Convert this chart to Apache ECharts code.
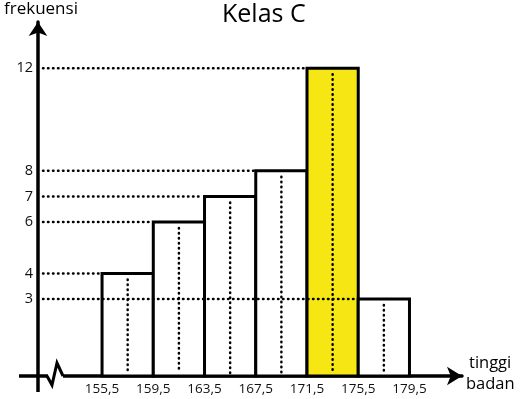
<!DOCTYPE html>
<html>
  <head>
    <meta charset="utf-8" />
    <title>Kelas C</title>
    <script src="https://cdn.jsdelivr.net/npm/echarts@6/dist/echarts.min.js"></script>
    <style>
      body { margin: 0; background: #fff; }
      #main { width: 521px; height: 399px; }
    </style>
  </head>
  <body>
    <div id="main"></div>
    <script type="text/javascript">
// tepi kelas dan frekuensi
var edges = [155.5, 159.5, 163.5, 167.5, 171.5, 175.5, 179.5];
var freqs = [4, 6, 7, 8, 12, 3];
var yTicks = [3, 4, 6, 7, 8, 12];
var highlight = 4;

var xMin = 150.5, xMax = 183.6;
var font = 'Open Sans';

var chart = echarts.init(document.getElementById('main'));

var barData = freqs.map(function (f, i) {
  return [edges[i], edges[i + 1], f, i];
});

function renderBar(params, api) {
  var p0 = api.coord([api.value(0), 0]);
  var p1 = api.coord([api.value(1), api.value(2)]);
  return {
    type: 'rect',
    shape: { x: p0[0], y: p1[1], width: p1[0] - p0[0], height: p0[1] - p1[1] },
    style: {
      fill: api.value(3) === highlight ? '#f5e614' : '#fff',
      stroke: '#000',
      lineWidth: 3
    }
  };
}

function renderGuides(params, api) {
  var s = api.value(0), e = api.value(1), f = api.value(2);
  var mid = (s + e) / 2;
  var top = api.coord([mid, f]);
  var bot = api.coord([mid, 0]);
  var left = api.coord([xMin, f]);
  var edge = api.coord([s, f]);
  var dot = { stroke: '#000', lineWidth: 2.5, lineDash: [0.5, 4.5], lineCap: 'round' };
  return {
    type: 'group',
    children: [
      { type: 'line', shape: { x1: left[0] + 5, y1: left[1], x2: edge[0] - 2, y2: edge[1] }, style: dot },
      { type: 'line', shape: { x1: top[0], y1: top[1] + 6, x2: bot[0], y2: bot[1] - 3 }, style: dot }
    ]
  };
}

// tanda patahan sumbu
function renderBreak(params, api) {
  var o = api.coord([xMin, 0]);
  var x = o[0], y = o[1];
  return {
    type: 'group',
    children: [
      { type: 'line', shape: { x1: x - 19, y1: y, x2: x, y2: y }, style: { stroke: '#000', lineWidth: 3.5 } },
      { type: 'line', shape: { x1: x, y1: y, x2: x, y2: y + 16 }, style: { stroke: '#000', lineWidth: 3.5 } },
      { type: 'rect', shape: { x: x + 10, y: y - 3, width: 15, height: 6 }, style: { fill: '#fff' } },
      {
        type: 'polyline',
        shape: { points: [[x + 9, y], [x + 14, y + 9], [x + 19, y - 13], [x + 25, y]] },
        style: { stroke: '#000', lineWidth: 3, fill: null, lineJoin: 'miter' }
      }
    ]
  };
}

var option = {
  animation: false,
  grid: { left: 38, right: 59, top: 22, bottom: 23 },
  xAxis: {
    type: 'value',
    min: xMin,
    max: xMax,
    axisLine: {
      show: true,
      lineStyle: { color: '#000', width: 3.5 },
      symbol: ['none', 'arrow'],
      symbolSize: [14, 15],
      symbolOffset: [0, 0]
    },
    axisTick: { show: false },
    splitLine: { show: false },
    axisLabel: {
      customValues: edges,
      formatter: function (v) { return String(v).replace('.', ','); },
      fontFamily: font,
      fontSize: 13.5,
      color: '#111',
      margin: 6
    }
  },
  yAxis: {
    type: 'value',
    min: 0,
    max: 13.8,
    axisLine: {
      show: true,
      lineStyle: { color: '#000', width: 3.5 },
      symbol: ['none', 'arrow'],
      symbolSize: [14, 14],
      symbolOffset: [0, 0]
    },
    axisTick: { show: false },
    splitLine: { show: false },
    axisLabel: {
      customValues: yTicks,
      fontFamily: font,
      fontSize: 14.5,
      color: '#111',
      margin: 5,
      padding: [0, 0, 5, 0]
    }
  },
  graphic: [
    { type: 'text', left: 222, top: 2, style: { text: 'Kelas C', font: '25px "Open Sans"', fill: '#000' } },
    { type: 'text', left: 4, top: 1, style: { text: 'frekuensi', font: '17px "Open Sans"', fill: '#000' } },
    { type: 'text', left: 469, top: 355, style: { text: 'tinggi', font: '16.5px "Open Sans"', fill: '#000' } },
    { type: 'text', left: 466, top: 376, style: { text: 'badan', font: '16.5px "Open Sans"', fill: '#000' } }
  ],
  series: [
    { type: 'custom', renderItem: renderBar, data: barData, encode: { x: [0, 1], y: 2 }, z: 2 },
    { type: 'custom', renderItem: renderGuides, data: barData, encode: { x: [0, 1], y: 2 }, z: 3 },
    { type: 'custom', renderItem: renderBreak, data: [[xMin, 0]], z: 4, silent: true }
  ]
};

chart.setOption(option);
    </script>
  </body>
</html>
